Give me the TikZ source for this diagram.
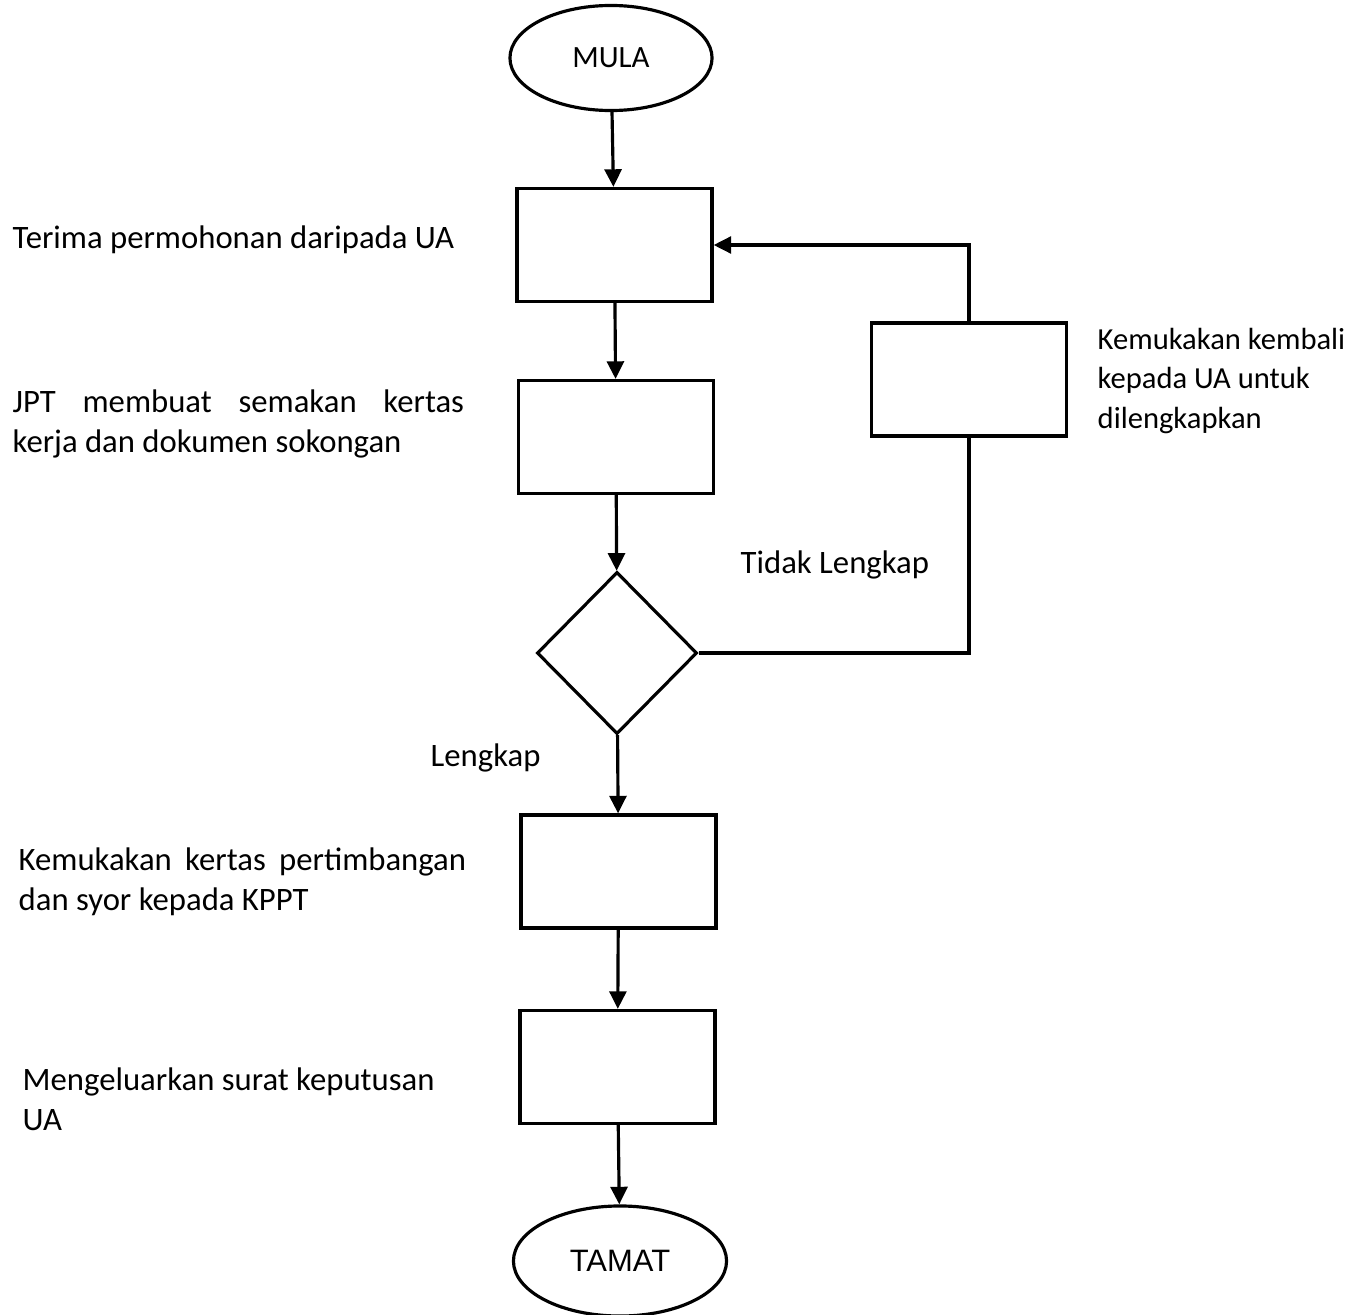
\documentclass[tikz,border=0pt]{standalone}
\usepackage{fontspec}
\setmainfont{Carlito}
\newfontfamily\arialfont{Liberation Sans}
\usetikzlibrary{shapes.geometric,arrows.meta}

\tikzset{
  kotak/.style={draw, line width=0.9pt, minimum width=1.95cm, minimum height=1.13cm, inner sep=0pt},
  hujung/.style={draw, ellipse, line width=0.9pt, minimum width=2.02cm, minimum height=1.05cm, inner sep=0pt, font=\fontsize{8.8}{10}\selectfont},
  keputusan/.style={draw, diamond, line width=0.9pt, minimum width=1.6cm, minimum height=1.62cm, inner sep=0pt},
  teks/.style={anchor=west, align=left, inner sep=0pt, font=\fontsize{9.3}{11.4}\selectfont},
  anak/.style={line width=0.9pt, -{Triangle[length=5pt,width=4.8pt]}},
}

\begin{document}
\begin{tikzpicture}[x=0.01cm, y=-0.01cm]
\useasboundingbox (0,0) rectangle (1357,1315);

% Mula dan tamat
\node[hujung] (mula) at (611,58) {MULA};
\node[hujung, minimum width=2.13cm, minimum height=1.1cm] (tamat) at (620,1261) {\arialfont TAMAT};

% Kotak proses
\node[kotak] (terima) at (614.5,245) {};
\node[kotak] (semak) at (616,437) {};
\node[keputusan] (lengkap) at (617,653) {};
\node[kotak] (kertas) at (618.5,871.5) {};
\node[kotak] (surat) at (617.5,1067) {};
\node[kotak] (kembali) at (969,379.5) {};

% Keterangan
\node[teks] (tterima) at (12,240) {Terima permohonan daripada UA};
\node[teks] (tsemak) at (12,424) {\makebox[4.51cm][s]{JPT membuat semakan kertas}\\kerja dan dokumen sokongan};
\node[teks] (tkertas) at (18,882) {\makebox[4.47cm][s]{Kemukakan kertas pertimbangan}\\dan syor kepada KPPT};
\node[teks] (tsurat) at (22,1099) {Mengeluarkan surat keputusan\\UA};
\node[teks] (ttidak) at (740,565) {Tidak Lengkap};
\node[teks] (tya) at (430,758) {Lengkap};
\node[teks, font=\fontsize{8.7}{11.2}\selectfont] (tkembali) at (1097,381) {Kemukakan kembali\\kepada UA untuk\\dilengkapkan};

% Anak panah
\draw[anak] (mula) -- (terima);
\draw[anak] (terima) -- (semak);
\draw[anak] (semak) -- (lengkap);
\draw[anak] (lengkap) -- (kertas);
\draw[anak] (kertas) -- (surat);
\draw[anak] (surat) -- (tamat);
\draw[anak] (kembali.north) |- (terima.east); % balik ke permohonan
\draw[line width=0.9pt] (lengkap.east) -| (kembali.south); % tidak lengkap

\end{tikzpicture}
\end{document}
